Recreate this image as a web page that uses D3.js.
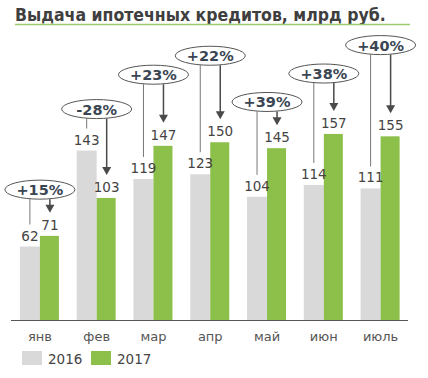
<!DOCTYPE html>
<html><head><meta charset="utf-8">
<script src="https://cdn.jsdelivr.net/npm/d3@7/dist/d3.min.js"></script>
<style>
html,body{margin:0;padding:0;background:#fff;}
svg{display:block;}
</style></head>
<body>
<svg id="c" width="428" height="378"></svg>
<script>
const title = "Выдача ипотечных кредитов, млрд руб.";
const months = ["янв","фев","мар","апр","май","июн","июль"];
const values2016 = [62,143,119,123,104,114,111];
const values2017 = [71,103,147,150,145,157,155];
const changeLabels = ["+15%","-28%","+23%","+22%","+39%","+38%","+40%"];
// level of each change bubble, in value units
const bubbleLevels = [110,178,207,223,184,208,232];
const seriesNames = ["2016","2017"];

const colors = {g2016:"#d9d9d9", g2017:"#8cc04b"};
const svg = d3.select("#c");
const font = "'DejaVu Sans', Verdana, sans-serif";

// title
svg.append("text").attr("x",15).attr("y",20.5)
  .attr("font-family","'DejaVu Sans Condensed','DejaVu Sans',sans-serif")
  .attr("font-weight","bold").attr("font-size",17.5).attr("fill","#3f3f3f")
  .text(title);
svg.append("line").attr("x1",15).attr("x2",410).attr("y1",24.5).attr("y2",24.5)
  .attr("stroke","#9ccb6c").attr("stroke-width",1.5);

const x = d3.scaleBand().domain(months).range([11.5,409]).paddingInner(0).paddingOuter(0);
const y = d3.scaleLinear().domain([0,160]).range([320,130.4]);
const bw = 20;
const cx = m => x(m) + x.bandwidth()/2;

const data = months.map((m,i)=>({m, a:values2016[i], b:values2017[i], lab:changeLabels[i], lev:bubbleLevels[i]}));

// bars
svg.selectAll("rect.a").data(data).join("rect").attr("class","a")
  .attr("x",d=>cx(d.m)-bw).attr("width",bw)
  .attr("y",d=>y(d.a)).attr("height",d=>y(0)-y(d.a)).attr("fill",colors.g2016);
svg.selectAll("rect.b").data(data).join("rect").attr("class","b")
  .attr("x",d=>cx(d.m)).attr("width",bw-1)
  .attr("y",d=>y(d.b)).attr("height",d=>y(0)-y(d.b)).attr("fill",colors.g2017);

// axis
const axis = d3.axisBottom(x).tickSize(0).tickPadding(12);
const ag = svg.append("g").attr("transform","translate(0,320)").call(axis);
ag.select(".domain").attr("stroke","#555").attr("d","M11,0.5H408");
ag.selectAll("text").attr("font-family",font).attr("font-size",13).attr("fill","#555");

// value labels
svg.selectAll("text.va").data(data).join("text").attr("class","va")
  .attr("x",d=>cx(d.m)-bw/2).attr("y",d=>y(d.a)-6).attr("text-anchor","middle")
  .attr("font-family",font).attr("font-size",13.5).attr("fill","#444").text(d=>d.a);
svg.selectAll("text.vb").data(data).join("text").attr("class","vb")
  .attr("x",d=>cx(d.m)+bw/2).attr("y",d=>y(d.b)-6).attr("text-anchor","middle")
  .attr("font-family",font).attr("font-size",13.5).attr("fill","#444").text(d=>d.b);

// connectors
const ry = 9.5, rx = 35;
svg.selectAll("line.ca").data(data).join("line").attr("class","ca")
  .attr("x1",d=>cx(d.m)-bw/2).attr("x2",d=>cx(d.m)-bw/2)
  .attr("y1",d=>y(d.lev)+ry).attr("y2",d=>y(d.a)-22)
  .attr("stroke","#777").attr("stroke-width",1);
svg.selectAll("line.cb").data(data).join("line").attr("class","cb")
  .attr("x1",d=>cx(d.m)+bw/2).attr("x2",d=>cx(d.m)+bw/2)
  .attr("y1",d=>y(d.lev)+ry).attr("y2",d=>y(d.b)-28)
  .attr("stroke","#4a4a4a").attr("stroke-width",1.5);
svg.selectAll("path.ah").data(data).join("path").attr("class","ah")
  .attr("d",d=>{const px=cx(d.m)+bw/2, py=y(d.b)-23; return `M${px-4.5},${py-8}L${px+4.5},${py-8}L${px},${py}Z`;})
  .attr("fill","#4a4a4a");

// bubbles
svg.selectAll("ellipse.bub").data(data).join("ellipse").attr("class","bub")
  .attr("cx",d=>cx(d.m)).attr("cy",d=>y(d.lev)).attr("rx",rx).attr("ry",ry)
  .attr("fill","#fff").attr("stroke","#555").attr("stroke-width",1);
svg.selectAll("text.bt").data(data).join("text").attr("class","bt")
  .attr("x",d=>cx(d.m)).attr("y",d=>y(d.lev)+5.5).attr("text-anchor","middle")
  .attr("font-family",font).attr("font-weight","bold").attr("font-size",14.5).attr("fill","#3b4654")
  .text(d=>d.lab);

// legend
const leg = svg.append("g");
seriesNames.forEach((s,i)=>{
  const lx = 22 + i*69;
  leg.append("rect").attr("x",lx).attr("y",351).attr("width",20).attr("height",14)
    .attr("fill", i===0?colors.g2016:colors.g2017);
  leg.append("text").attr("x",lx+26).attr("y",363.5).attr("font-family",font)
    .attr("font-size",13.5).attr("fill","#444").text(s);
});
</script>
</body></html>
